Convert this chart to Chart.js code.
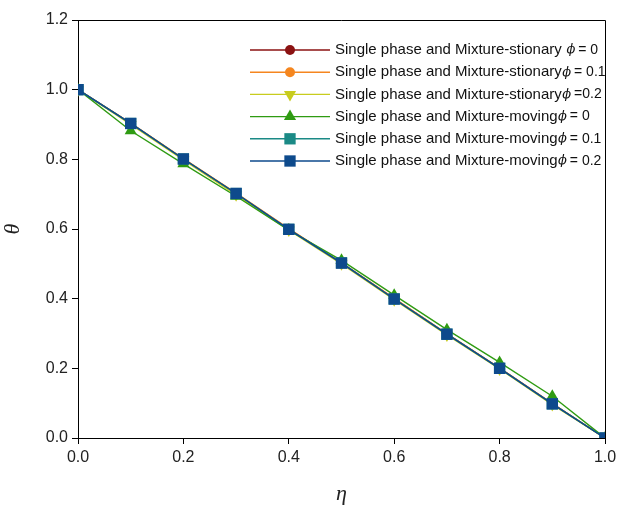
<!DOCTYPE html>
<html>
<head>
<meta charset="utf-8">
<script src="https://cdn.jsdelivr.net/npm/chart.js@4.4.1/dist/chart.umd.min.js"></script>
<style>
  html, body { margin: 0; padding: 0; background: #fff; }
  #wrap { width: 622px; height: 507px; }
</style>
</head>
<body>
<div id="wrap"><canvas id="c"></canvas></div>
<script>
// eta values (x)
var eta = [0, 0.1, 0.2, 0.3, 0.4, 0.5, 0.6, 0.7, 0.8, 0.9, 1.0];

// theta values
var stat0  = [1.0, 0.903, 0.801, 0.702, 0.600, 0.503, 0.400, 0.299, 0.201, 0.099, 0.0];
var stat01 = [1.0, 0.904, 0.802, 0.703, 0.601, 0.503, 0.401, 0.299, 0.201, 0.099, 0.0];
var stat02 = [1.0, 0.900, 0.798, 0.698, 0.597, 0.500, 0.397, 0.296, 0.198, 0.096, 0.0];
var mov0   = [1.0, 0.882, 0.787, 0.694, 0.597, 0.510, 0.410, 0.311, 0.217, 0.120, 0.0];
var mov01  = [1.0, 0.903, 0.801, 0.702, 0.599, 0.503, 0.399, 0.298, 0.200, 0.098, 0.0];
var mov02  = [1.0, 0.903, 0.801, 0.702, 0.599, 0.502, 0.399, 0.298, 0.200, 0.098, 0.0];

var xTicks = [0, 0.2, 0.4, 0.6, 0.8, 1.0];
var yTicks = [0, 0.2, 0.4, 0.6, 0.8, 1.0, 1.2];

var labelPre = [
  'Single phase and Mixture-stionary ',
  'Single phase and Mixture-stionary',
  'Single phase and Mixture-stionary',
  'Single phase and Mixture-moving',
  'Single phase and Mixture-moving',
  'Single phase and Mixture-moving'
];
var labelPost = [' = 0', ' = 0.1', ' =0.2', ' = 0', ' = 0.1', ' = 0.2'];

var series = [stat0, stat01, stat02, mov0, mov01, mov02];
var colors = ['#8B1212', '#F5861F', '#C8CC1E', '#2F9B12', '#1B8A86', '#0E4A8C'];
var styles = ['circle', 'circle', 'triangle', 'triangle', 'rect', 'rect'];
var rotations = [0, 0, 180, 0, 0, 0];
var radii = [5, 5, 7, 7, 8, 8];

var PHI = '\u03d5';

function pts(ys) {
  return ys.map(function (v, i) { return { x: eta[i], y: v }; });
}

var datasets = series.map(function (s, i) {
  return {
    label: labelPre[i] + PHI + labelPost[i],
    data: pts(s),
    borderColor: colors[i],
    backgroundColor: colors[i],
    pointBackgroundColor: colors[i],
    pointBorderColor: colors[i],
    pointStyle: styles[i],
    pointRotation: rotations[i],
    pointRadius: radii[i],
    pointBorderWidth: 0,
    borderWidth: 1.4,
    order: 5 - i
  };
});

var framePlugin = {
  id: 'frame',
  afterDatasetsDraw: function (chart) {
    var a = chart.chartArea, ctx = chart.ctx;
    ctx.save();
    ctx.strokeStyle = '#000';
    ctx.lineWidth = 1;
    ctx.beginPath();
    ctx.moveTo(a.left, a.top + 0.5);
    ctx.lineTo(a.right + 0.5, a.top + 0.5);
    ctx.lineTo(a.right + 0.5, a.bottom);
    ctx.stroke();
    ctx.restore();
  }
};

var legendPlugin = {
  id: 'lineLegend',
  afterDatasetsDraw: function (chart) {
    var ctx = chart.ctx;
    var x0 = 250, x1 = 330, xm = 290, xt = 335, y0 = 50, dy = 22.2;
    ctx.save();
    for (var i = 0; i < series.length; i++) {
      var y = y0 + i * dy;
      ctx.strokeStyle = colors[i];
      ctx.fillStyle = colors[i];
      ctx.lineWidth = 1.4;
      ctx.beginPath();
      ctx.moveTo(x0, y);
      ctx.lineTo(x1, y);
      ctx.stroke();
      Chart.helpers.drawPoint(ctx, {
        pointStyle: styles[i], rotation: rotations[i], radius: radii[i], borderWidth: 0
      }, xm, y);
      ctx.fillStyle = '#111';
      ctx.textBaseline = 'middle';
      ctx.font = '15px "Liberation Sans", Arial, sans-serif';
      var x = xt;
      ctx.fillText(labelPre[i], x, y);
      x += ctx.measureText(labelPre[i]).width + 0.5;
      ctx.font = 'italic 13px "DejaVu Serif", "Liberation Serif", serif';
      ctx.fillText(PHI, x, y);
      x += ctx.measureText(PHI).width - 1;
      ctx.font = '14px "Liberation Sans", Arial, sans-serif';
      ctx.fillText(labelPost[i], x, y);
    }
    ctx.restore();
  }
};

new Chart(document.getElementById('c'), {
  type: 'line',
  data: { datasets: datasets },
  options: {
    responsive: true,
    maintainAspectRatio: false,
    animation: false,
    layout: { padding: { left: 0, right: 17, top: 20, bottom: 0 } },
    plugins: { legend: { display: false }, tooltip: { enabled: false } },
    scales: {
      x: {
        type: 'linear',
        min: 0, max: 1,
        afterBuildTicks: function (s) { s.ticks = xTicks.map(function (v) { return { value: v }; }); },
        afterFit: function (s) { s.height = 69; },
        ticks: {
          color: '#222',
          padding: 4,
          font: { family: '"Liberation Sans", Arial, sans-serif', size: 16 },
          callback: function (v) { return v.toFixed(1); }
        },
        grid: { drawOnChartArea: false, drawTicks: true, tickLength: 6, color: '#000' },
        border: { color: '#000', width: 1 },
        title: {
          display: true, text: '\u03b7', color: '#222',
          font: { family: '"Liberation Serif", "Times New Roman", serif', style: 'italic', size: 22 },
          padding: { top: 2, bottom: 0 }
        }
      },
      y: {
        type: 'linear',
        min: 0, max: 1.2,
        afterBuildTicks: function (s) { s.ticks = yTicks.map(function (v) { return { value: v }; }); },
        afterFit: function (s) { s.width = 78; },
        ticks: {
          color: '#222',
          padding: 4,
          font: { family: '"Liberation Sans", Arial, sans-serif', size: 16 },
          callback: function (v) { return v.toFixed(1); }
        },
        grid: { drawOnChartArea: false, drawTicks: true, tickLength: 6, color: '#000' },
        border: { color: '#000', width: 1 },
        title: {
          display: true, text: '\u03b8', color: '#222',
          font: { family: '"Liberation Serif", "Times New Roman", serif', style: 'italic', size: 22 },
          padding: { top: 0, bottom: 6 }
        }
      }
    }
  },
  plugins: [framePlugin, legendPlugin]
});
</script>
</body>
</html>
